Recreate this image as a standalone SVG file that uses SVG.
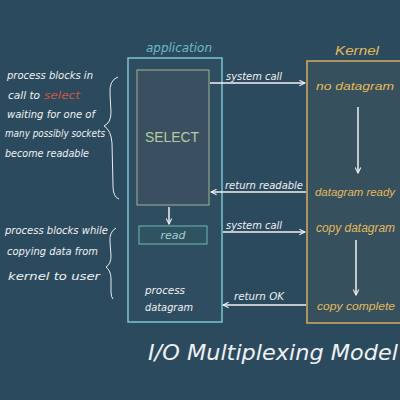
<svg xmlns="http://www.w3.org/2000/svg" width="400" height="400" viewBox="0 0 400 400">
<defs>
<marker id="ah" viewBox="0 0 10 10" refX="9" refY="5" markerWidth="7" markerHeight="7" orient="auto-start-reverse" markerUnits="userSpaceOnUse">
<path d="M1,1 L9,5 L1,9" fill="none" stroke="#f2f2f2" stroke-width="1.5"/>
</marker>
<style>
.hand{font-family:"DejaVu Sans","Liberation Sans",sans-serif;font-style:italic;fill:#eef1f3;}
.note{font-size:11px;}
.lbl{font-size:10px;}
.kt{font-family:"Liberation Sans","DejaVu Sans",sans-serif;font-style:italic;fill:#e3b95e;font-size:11.5px;}
.conn{stroke:#f2f2f2;stroke-width:1.5;fill:none;marker-end:url(#ah);}
.brace{stroke:#e8ecef;stroke-width:1;fill:none;}
</style>
</defs>
<rect x="0" y="0" width="400" height="400" fill="#2c4a5e"/>

<g id="application">
<rect x="128" y="58" width="94" height="264" fill="#2f4d60" stroke="#7cc3d3" stroke-width="1.5"/>
<text x="179" y="52" text-anchor="middle" class="hand" style="fill:#6fb9c9;font-size:13px" textLength="66" lengthAdjust="spacingAndGlyphs">application</text>
<text x="145" y="294" class="hand note" textLength="40" lengthAdjust="spacingAndGlyphs">process</text>
<text x="145" y="311" class="hand note" textLength="48" lengthAdjust="spacingAndGlyphs">datagram</text>
</g>

<g id="select">
<rect x="137" y="70" width="72" height="135" fill="#3a5060" stroke="#9fb394" stroke-width="1"/>
<text x="172" y="142" text-anchor="middle" style="font-family:'Liberation Sans',sans-serif;font-size:15px;fill:#b9cba2" textLength="54" lengthAdjust="spacingAndGlyphs">SELECT</text>
</g>

<g id="read">
<rect x="139" y="226" width="68" height="18" fill="#2f5360" stroke="#6fb9b0" stroke-width="1"/>
<text x="173" y="239" text-anchor="middle" class="hand" style="fill:#9fd3cc;font-size:11px">read</text>
</g>

<g id="kernel">
<rect x="307" y="61" width="100" height="262" fill="#36505d" stroke="#d3ad5f" stroke-width="1.5"/>
<text x="357" y="55" text-anchor="middle" class="kt" style="font-size:13px" textLength="44" lengthAdjust="spacingAndGlyphs">Kernel</text>
<text x="316" y="90" class="kt" textLength="78" lengthAdjust="spacingAndGlyphs">no datagram</text>
<text x="315" y="196" class="kt" textLength="80" lengthAdjust="spacingAndGlyphs">datagram ready</text>
<text x="316" y="232" class="kt" style="font-size:12px" textLength="79" lengthAdjust="spacingAndGlyphs">copy datagram</text>
<text x="317" y="310" class="kt" textLength="78" lengthAdjust="spacingAndGlyphs">copy complete</text>
</g>

<g id="notes">
<text x="7" y="79" class="hand note" textLength="86" lengthAdjust="spacingAndGlyphs">process blocks in</text>
<text x="8" y="99" class="hand note" textLength="32" lengthAdjust="spacingAndGlyphs">call to</text>
<text x="44" y="99" class="hand note" style="fill:#d0553e" textLength="36" lengthAdjust="spacingAndGlyphs">select</text>
<text x="7" y="118" class="hand note" textLength="88" lengthAdjust="spacingAndGlyphs">waiting for one of</text>
<text x="5" y="137" class="hand note" textLength="100" lengthAdjust="spacingAndGlyphs">many possibly sockets</text>
<text x="5" y="157" class="hand note" textLength="84" lengthAdjust="spacingAndGlyphs">become readable</text>
<path class="brace" d="M118,77 Q109,80 110,94 L111,112 Q111,123 104,126 Q111,130 112,143 L113,186 Q113,197 119,199"/>
<text x="5" y="234" class="hand note" textLength="103" lengthAdjust="spacingAndGlyphs">process blocks while</text>
<text x="7" y="255" class="hand note" textLength="91" lengthAdjust="spacingAndGlyphs">copying data from</text>
<text x="8" y="280" class="hand note" textLength="92" lengthAdjust="spacingAndGlyphs">kernel to user</text>
<path class="brace" d="M116,228 Q109,232 110,242 L111,256 Q111,264 106,267 Q111,271 111,279 L111,292 Q111,297 113,299"/>
</g>

<g id="connectors">
<path class="conn" d="M210,83 L305,83"/>
<text x="226" y="80" class="hand lbl" textLength="56" lengthAdjust="spacingAndGlyphs">system call</text>
<path class="conn" d="M306,192 L211,192"/>
<text x="225" y="189" class="hand lbl" textLength="78" lengthAdjust="spacingAndGlyphs">return readable</text>
<path class="conn" d="M223,232 L305,232"/>
<text x="226" y="229" class="hand lbl" textLength="56" lengthAdjust="spacingAndGlyphs">system call</text>
<path class="conn" d="M306,305 L223,305"/>
<text x="234" y="300" class="hand lbl" textLength="50" lengthAdjust="spacingAndGlyphs">return OK</text>
<path class="conn" d="M169,207 L169,224"/>
<path class="conn" d="M358,107 L358,173"/>
<path class="conn" d="M356,240 L356,295"/>
</g>

<text x="148" y="360" class="hand" style="font-size:22px" textLength="250" lengthAdjust="spacingAndGlyphs">I/O Multiplexing Model</text>
</svg>
